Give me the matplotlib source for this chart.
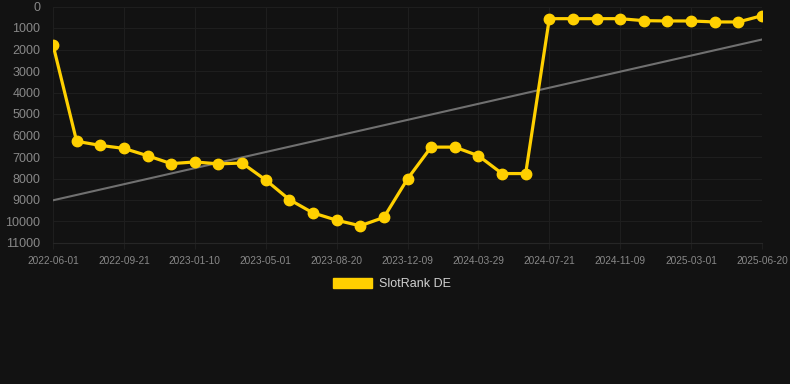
import numpy as np
import matplotlib
matplotlib.use("Agg")
import matplotlib.pyplot as plt
from matplotlib.patches import Patch

plt.rcParams["font.family"] = ["Liberation Sans", "DejaVu Sans"]

# Data (rank values, lower is better)
tick_labels = ["2022-06-01", "2022-09-21", "2023-01-10", "2023-05-01",
               "2023-08-20", "2023-12-09", "2024-03-29", "2024-07-21",
               "2024-11-09", "2025-03-01", "2025-06-20"]
rank_values = [1780, 6270, 6460, 6600, 6940, 7310, 7230, 7320, 7280, 8070, 8980,
               9600, 9940, 10200, 9810, 8020, 6540, 6540, 6940, 7770, 7770,
               566, 566, 566, 566, 659, 673, 673, 719, 719, 427]
series_name = "SlotRank DE"

BG = "#121212"
YELLOW = "#FFD000"
GRID = "#1e1e1e"
TICK = "#888888"

x = np.arange(len(rank_values))
slope, intercept = np.polyfit(x, rank_values, 1)
trend = slope * x + intercept

fig = plt.figure(figsize=(7.9, 3.84), dpi=100, facecolor=BG)
ax = fig.add_axes([53 / 790, 1 - 243 / 384, 709 / 790, 236.5 / 384])
ax.set_facecolor(BG)

ax.plot(x, trend, color="#707070", linewidth=1.5, zorder=2)
ax.plot(x, rank_values, color=YELLOW, linewidth=2.3, marker="o",
        markersize=7.5, zorder=3)

ax.set_xlim(0, len(rank_values) - 1)
ax.set_ylim(11000, 0)
ax.set_yticks(np.arange(0, 11001, 1000))
ax.set_xticks(x[::3])
ax.set_xticklabels(tick_labels)

ax.grid(True, color=GRID, linewidth=0.8)
ax.set_axisbelow(True)
for side in ["top", "right", "left"]:
    ax.spines[side].set_visible(False)
ax.spines["bottom"].set_color("#262626")

ax.tick_params(axis="y", colors=TICK, labelsize=9, length=0, pad=9)
ax.tick_params(axis="x", colors=TICK, labelsize=7.3, length=4, pad=5,
               color=GRID)

fig.legend(handles=[Patch(facecolor=YELLOW, edgecolor=YELLOW, label=series_name)],
           loc="center", bbox_to_anchor=(0.496, 1 - 284 / 384), frameon=False,
           fontsize=9, labelcolor="#d0d0d0", handlelength=3.1, handleheight=0.9,
           handletextpad=0.6)

fig.savefig("out.png", dpi=100, facecolor=BG)
